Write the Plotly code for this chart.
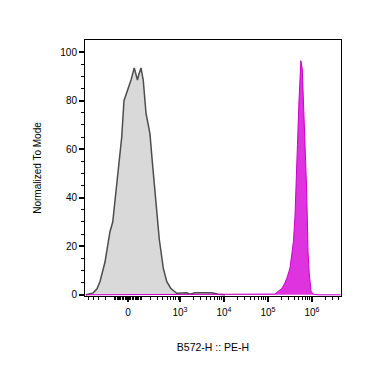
import numpy as np
import plotly.graph_objects as go

# Unstained / control histogram (intensity, normalized count)
grey_intensity = [-588, -396, -321, -270, -200, -144, -117, -97, -70, -44, -28, -10, 2,
                  21, 44, 57, 68, 80, 97, 117, 144, 168, 187, 216, 267, 326, 408, 492,
                  609, 839, 1422, 1690, 2199, 5350, 7330, 10590]
grey_count = [0, 0.8, 2.5, 5.5, 13.5, 26, 30, 39, 52, 65, 80, 83, 84.5,
              88.5, 93.5, 91, 88.5, 91, 93.5, 88.5, 74.7, 70, 66.4, 55.3, 40, 23, 11, 5.5,
              2.7, 0.6, 0.8, 0.2, 0.8, 0.8, 0.2, 0]

# PE stained histogram
pe_intensity = [-600, 111400, 144800, 172100, 205400, 238000, 271000, 317000, 352000,
                380000, 411000, 445000, 469000, 508000, 535000, 560000, 603000, 670000,
                752000, 793000, 814000, 867000, 904000, 952000, 1056000, 1372000, 4500000]
pe_count = [0, 0, 0.3, 1.5, 2.5, 4.5, 7, 11, 17,
            22, 32, 47, 62, 80, 90, 96.5, 93, 73,
            45, 28, 18, 9, 4, 1.5, 0.3, 0, 0]

x_tick_values = [0, 1e3, 1e4, 1e5, 1e6]
x_tick_labels = ["0", "10<sup>3</sup>", "10<sup>4</sup>", "10<sup>5</sup>", "10<sup>6</sup>"]
x_minor_values = ([-500, -400, -300, -200, -100]
                  + list(range(-90, 0, 10)) + list(range(10, 100, 10))
                  + list(range(100, 1000, 100))
                  + [k * 1e3 for k in range(2, 10)]
                  + [k * 1e4 for k in range(2, 10)]
                  + [k * 1e5 for k in range(2, 10)]
                  + [2e6, 3e6, 4e6])
y_tick_values = [0, 20, 40, 60, 80, 100]
y_minor_values = [v for v in range(5, 105, 5) if v % 20 != 0]


def biex(v):
    return np.arcsinh(np.asarray(v, dtype=float) / 132.0) / np.log(10)


FONT = "Liberation Sans, Arial, sans-serif"

fig = go.Figure()
fig.add_trace(go.Scatter(
    x=biex(grey_intensity), y=grey_count, mode="lines",
    line=dict(color="#4d4d4d", width=1.5), fill="tozeroy", fillcolor="#d9d9d9",
    hoverinfo="skip", showlegend=False))
fig.add_trace(go.Scatter(
    x=biex(pe_intensity), y=pe_count, mode="lines",
    line=dict(color="#cc00cc", width=1), fill="tozeroy", fillcolor="#e033e0",
    hoverinfo="skip", showlegend=False))

fig.update_layout(
    width=375, height=360,
    margin=dict(l=77, r=42, t=32, b=72),
    paper_bgcolor="white", plot_bgcolor="white",
    font=dict(family=FONT, size=10, color="black"),
    xaxis=dict(
        range=[-0.977, 4.841], showgrid=False, zeroline=False,
        showline=True, linecolor="black", linewidth=1, mirror=True,
        tickmode="array", tickvals=biex(x_tick_values), ticktext=x_tick_labels,
        ticks="outside", ticklen=5, tickwidth=1.5, tickcolor="black",
        ticklabelstandoff=2,
        minor=dict(tickmode="array", tickvals=biex(x_minor_values), ticks="outside",
                   ticklen=3, tickwidth=1, tickcolor="black"),
        tickfont=dict(size=10),
        title=dict(text="B572-H :: PE-H", font=dict(size=10.5), standoff=26),
        automargin=False,
    ),
    yaxis=dict(
        range=[-0.5, 105], showgrid=False, zeroline=False,
        showline=True, linecolor="black", linewidth=1, mirror=True,
        tickmode="array", tickvals=y_tick_values,
        ticks="outside", ticklen=5, tickwidth=1.5, tickcolor="black",
        minor=dict(tickmode="array", tickvals=y_minor_values, ticks="outside",
                   ticklen=3, tickwidth=1, tickcolor="black"),
        tickfont=dict(size=10),
        title=dict(text="Normalized To Mode", font=dict(size=10), standoff=16),
        automargin=False,
    ),
)

fig.write_html("out.html")
